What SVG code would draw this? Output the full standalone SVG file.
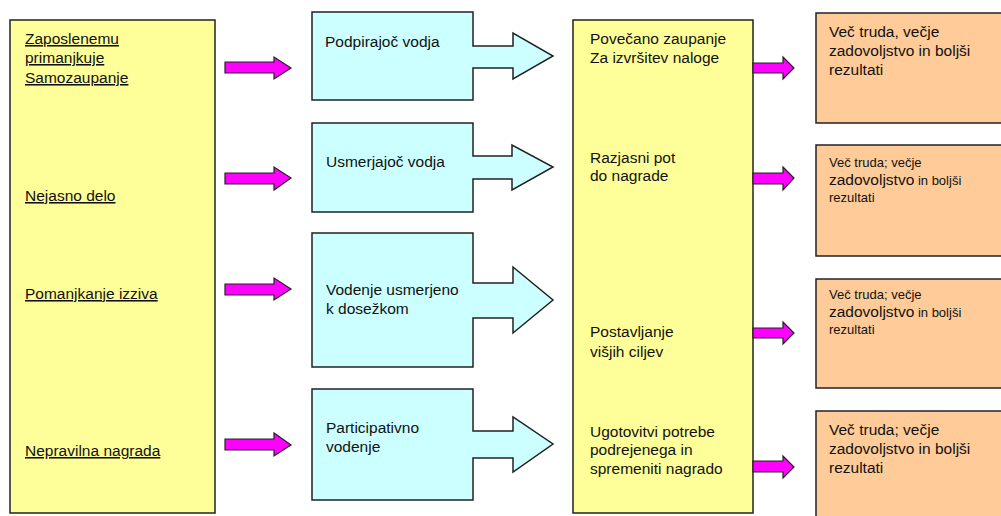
<svg xmlns="http://www.w3.org/2000/svg" width="1001" height="516" viewBox="0 0 1001 516">
  <style>
    .box { stroke: #222; stroke-width: 1.5; }
    .yellow { fill: #FFFF99; }
    .cyan { fill: #CCFFFF; }
    .orange { fill: #FFCC99; }
    .push { fill: #FF00FF; stroke: #222; stroke-width: 1.2; stroke-linejoin: miter; }
    text { font-family: "Liberation Sans", Arial, sans-serif; font-size: 15.5px; fill: #111; }
    .u { text-decoration: underline; }
    .sm { font-size: 13px; }
  </style>
  <rect width="1001" height="516" fill="#fff"/>

  <!-- connectors: magenta push arrows -->
  <g id="connectors">
    <path class="push" d="M225,62 H274 V57 L291,68 L274,79 V73 H225 Z"/>
    <path class="push" d="M225,173 H274 V167 L291,178 L274,190 V184 H225 Z"/>
    <path class="push" d="M225,284 H274 V278 L291,289 L274,300 V295 H225 Z"/>
    <path class="push" d="M225,439 H274 V433 L291,445 L274,456 V450 H225 Z"/>
  </g>

  <!-- left column: problems -->
  <g id="problems">
    <rect class="box yellow" x="10" y="20" width="205" height="493"/>
    <text class="u" x="25" y="44">Zaposlenemu</text>
    <text class="u" x="25" y="63">primanjkuje</text>
    <text class="u" x="25" y="83">Samozaupanje</text>
    <text class="u" x="25" y="201">Nejasno delo</text>
    <text class="u" x="25" y="299">Pomanjkanje izziva</text>
    <text class="u" x="25" y="456">Nepravilna nagrada</text>
  </g>

  <!-- leadership styles -->
  <g id="style-supportive">
    <path class="box cyan" d="M312,12 H473 V46 H513 V33 L553,56 L513,79 V68 H473 V100 H312 Z"/>
    <text x="325" y="47">Podpirajoč vodja</text>
  </g>
  <g id="style-directive">
    <path class="box cyan" d="M312,123 H473 V156 H512 V145 L553,167 L512,190 V179 H473 V212 H312 Z"/>
    <text x="326" y="167">Usmerjajoč vodja</text>
  </g>
  <g id="style-achievement">
    <path class="box cyan" d="M312,233 H473 V283 H513 V267 L553,300 L513,333 V318 H473 V367 H312 Z"/>
    <text x="326" y="295">Vodenje usmerjeno</text>
    <text x="326" y="314">k dosežkom</text>
  </g>
  <g id="style-participative">
    <path class="box cyan" d="M312,389 H473 V431 H513 V417 L553,444 L513,472 V458 H473 V500 H312 Z"/>
    <text x="326" y="433">Participativno</text>
    <text x="326" y="452">vodenje</text>
  </g>

  <!-- effects column -->
  <g id="effects">
    <rect class="box yellow" x="573" y="20" width="180" height="493"/>
    <text x="590" y="44">Povečano zaupanje</text>
    <text x="590" y="63">Za izvršitev naloge</text>
    <text x="590" y="163">Razjasni pot</text>
    <text x="590" y="181">do nagrade</text>
    <text x="590" y="337">Postavljanje</text>
    <text x="590" y="357">višjih ciljev</text>
    <text x="590" y="437">Ugotovitvi potrebe</text>
    <text x="590" y="455">podrejenega in</text>
    <text x="590" y="474">spremeniti nagrado</text>
  </g>

  <g id="connectors-right">
    <path class="push" d="M753,63 H783 V57 L794,68 L783,79 V73 H753 Z"/>
    <path class="push" d="M753,173 H783 V167 L794,178 L783,190 V184 H753 Z"/>
    <path class="push" d="M753,328 H783 V322 L794,333 L783,344 V338 H753 Z"/>
    <path class="push" d="M753,461 H783 V456 L794,467 L783,478 V472 H753 Z"/>
  </g>

  <!-- outcomes -->
  <g id="outcome-1">
    <rect class="box orange" x="816" y="13" width="200" height="110"/>
    <text x="829" y="37">Več truda, večje</text>
    <text x="829" y="56">zadovoljstvo in boljši</text>
    <text x="829" y="75">rezultati</text>
  </g>
  <g id="outcome-2">
    <rect class="box orange" x="816" y="145" width="200" height="111"/>
    <text class="sm" x="829" y="167">Več truda; večje</text>
    <text x="829" y="185">zadovoljstvo<tspan class="sm"> in boljši</tspan></text>
    <text class="sm" x="829" y="202">rezultati</text>
  </g>
  <g id="outcome-3">
    <rect class="box orange" x="816" y="279" width="200" height="109"/>
    <text class="sm" x="829" y="299">Več truda; večje</text>
    <text x="829" y="317">zadovoljstvo<tspan class="sm"> in boljši</tspan></text>
    <text class="sm" x="829" y="334">rezultati</text>
  </g>
  <g id="outcome-4">
    <rect class="box orange" x="816" y="411" width="200" height="120"/>
    <text x="829" y="435">Več truda; večje</text>
    <text x="829" y="454">zadovoljstvo in boljši</text>
    <text x="829" y="473">rezultati</text>
  </g>
</svg>
